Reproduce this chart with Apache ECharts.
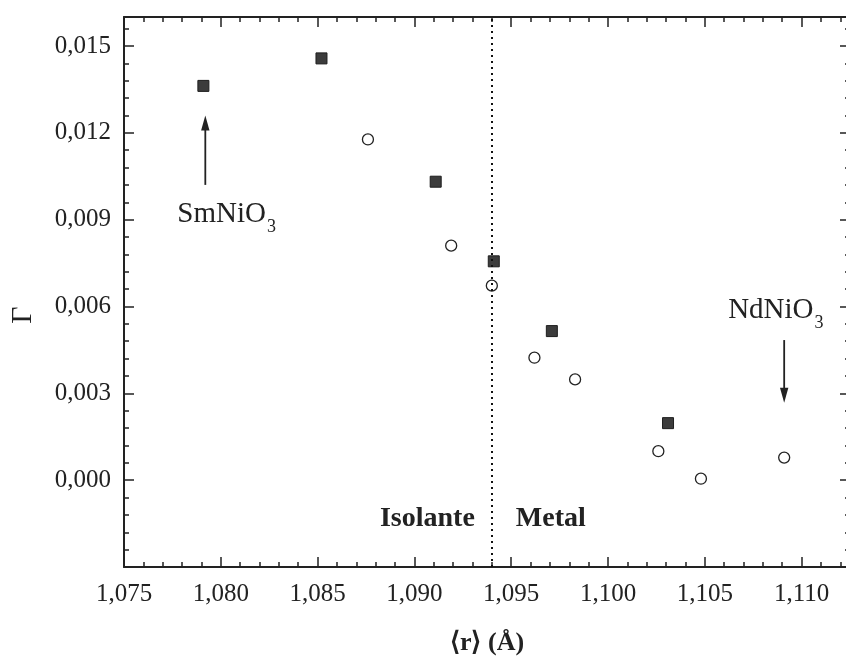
<!DOCTYPE html>
<html><head><meta charset="utf-8">
<script src="https://cdn.jsdelivr.net/npm/echarts@6/dist/echarts.min.js"></script>
<style>html,body{margin:0;padding:0;background:#fff}#c{width:846px;height:661px}</style>
</head><body><div id="c"></div>
<script>
// ---- data ----
const filledR = [1.0791, 1.0852, 1.0911, 1.0941, 1.0971, 1.1031];
const filledG = [0.01362, 0.01457, 0.01031, 0.00756, 0.00515, 0.00197];
const openR = [1.0876, 1.0919, 1.0940, 1.0962, 1.0983, 1.1026, 1.1048, 1.1091];
const openG = [0.01177, 0.00810, 0.00672, 0.00423, 0.00348, 0.00100, 0.00005, 0.00078];
const xTicks = [1.075, 1.080, 1.085, 1.090, 1.095, 1.100, 1.105, 1.110];
const xTickLabels = ['1,075', '1,080', '1,085', '1,090', '1,095', '1,100', '1,105', '1,110'];
const yTicks = [0.000, 0.003, 0.006, 0.009, 0.012, 0.015];
const yTickLabels = ['0,000', '0,003', '0,006', '0,009', '0,012', '0,015'];
const xRange = [1.075, 1.1125];
const yRange = [-0.003, 0.016];
const xMinorStep = 0.001, yMinorStep = 0.0006;
const dividerR = 1.094;               // insulator / metal boundary
const smArrow = {x: 1.0792, from: 0.0102, to: 0.0126};
const ndArrow = {x: 1.1091, from: 0.00484, to: 0.00267};
const phaseLabelY = -0.0013;

const FONT = 'Liberation Serif';
const INK = '#222';
const gridBox = {left: 124, top: 17, width: 726, height: 550, outerBoundsMode: 'none', containLabel: false};

function fmt(vals, labels) {
  return v => { for (let i = 0; i < vals.length; i++) if (Math.abs(vals[i] - v) < 1e-9) return labels[i]; return ''; };
}
function majorX(pos, withLabels) {
  const a = {
    type: 'value', gridIndex: 0, position: pos, min: xRange[0], max: xRange[1], interval: 0.005,
    axisLine: {show: true, onZero: false, lineStyle: {color: INK, width: 2}},
    axisTick: {show: true, inside: true, length: 10, lineStyle: {color: INK, width: 1.5}, customValues: xTicks},
    axisLabel: {show: withLabels, customValues: xTicks, formatter: fmt(xTicks, xTickLabels), margin: 15,
      fontSize: 25, fontFamily: FONT, color: INK},
    splitLine: {show: false}
  };
  if (withLabels) {
    a.name = '⟨r⟩ (Å)'; a.nameLocation = 'middle'; a.nameGap = 63;
    a.nameTextStyle = {fontSize: 26, fontWeight: 'bold', fontFamily: FONT, color: INK};
  }
  return a;
}
function minorX(pos) {
  return {type: 'value', gridIndex: 1, position: pos, min: xRange[0], max: xRange[1], interval: xMinorStep,
    axisLine: {show: false, onZero: false}, axisTick: {show: true, inside: true, length: 5, lineStyle: {color: INK, width: 1.5}},
    axisLabel: {show: false}, splitLine: {show: false}};
}
function majorY(pos, withLabels) {
  const a = {
    type: 'value', gridIndex: 0, position: pos, min: yRange[0], max: yRange[1], interval: 0.003,
    axisLine: {show: true, onZero: false, lineStyle: {color: INK, width: 2}},
    axisTick: {show: true, inside: true, length: 10, lineStyle: {color: INK, width: 1.5}, customValues: yTicks},
    axisLabel: {show: withLabels, customValues: yTicks, formatter: fmt(yTicks, yTickLabels), margin: 13,
      fontSize: 25, fontFamily: FONT, color: INK},
    splitLine: {show: false}
  };
  if (withLabels) {
    a.name = 'Γ'; a.nameLocation = 'middle'; a.nameGap = 86; a.nameRotate = 90;
    a.nameTextStyle = {fontSize: 30, fontFamily: FONT, color: INK, padding: [0, 46, 0, 0]};
  }
  return a;
}
function minorY(pos) {
  return {type: 'value', gridIndex: 1, position: pos, min: yRange[0], max: yRange[1], interval: yMinorStep,
    axisLine: {show: false, onZero: false}, axisTick: {show: true, inside: true, length: 5, lineStyle: {color: INK, width: 1.5}},
    axisLabel: {show: false}, splitLine: {show: false}};
}

const pts = (xs, ys) => xs.map((x, i) => [x, ys[i]]);

const option = {
  animation: false,
  backgroundColor: '#fff',
  grid: [Object.assign({}, gridBox), Object.assign({}, gridBox)],
  xAxis: [majorX('bottom', true), majorX('top', false), minorX('bottom'), minorX('top')],
  yAxis: [majorY('left', true), majorY('right', false), minorY('left'), minorY('right')],
  series: [
    {type: 'scatter', name: 'filled', xAxisIndex: 0, yAxisIndex: 0, data: pts(filledR, filledG),
      symbol: 'rect', symbolSize: 11, itemStyle: {color: '#3c3c3c', borderColor: '#1e1e1e', borderWidth: 1, opacity: 1},
      markLine: {silent: true, symbol: 'none', precision: 5, label: {show: false},
        lineStyle: {type: [2, 4], color: '#111', width: 2}, data: [{xAxis: dividerR}]}},
    {type: 'scatter', name: 'open', xAxisIndex: 0, yAxisIndex: 0, data: pts(openR, openG),
      symbol: 'circle', symbolSize: 11, itemStyle: {color: '#fff', borderColor: '#222', borderWidth: 1.3, opacity: 1}}
  ]
};

const chart = echarts.init(document.getElementById('c'), null, {renderer: 'canvas'});
chart.setOption(option);

const px = (x, y) => chart.convertToPixel({xAxisIndex: 0, yAxisIndex: 0}, [x, y]);
function arrow(a) {
  const p = px(a.x, a.from), q = px(a.x, a.to);
  const dir = Math.sign(q[1] - p[1]), hl = 15, hw = 4.2;
  return [
    {type: 'line', silent: true, shape: {x1: p[0], y1: p[1], x2: q[0], y2: q[1] - dir * (hl - 2)}, style: {stroke: INK, lineWidth: 1.8}},
    {type: 'polygon', silent: true, shape: {points: [[q[0], q[1]], [q[0] - hw, q[1] - dir * hl], [q[0] + hw, q[1] - dir * hl]]}, style: {fill: INK}}
  ];
}
function compound(name, anchor, dx, dy) {
  return {type: 'text', silent: true, x: anchor[0] + dx, y: anchor[1] + dy,
    style: {text: '{a|' + name + '}{b|3}', align: 'left', verticalAlign: 'middle',
      rich: {a: {fontSize: 29, fontFamily: FONT, fill: INK},
             b: {fontSize: 18, fontFamily: FONT, fill: INK, padding: [27, 0, 0, 1]}}}};
}
const smTail = px(smArrow.x, smArrow.from);
const ndTail = px(ndArrow.x, ndArrow.from);
const div = px(dividerR, phaseLabelY);
chart.setOption({graphic: [].concat(
  arrow(smArrow), arrow(ndArrow),
  [compound('SmNiO', smTail, -28, 29), compound('NdNiO', ndTail, -56, -30),
   {type: 'text', silent: true, x: div[0] - 17, y: div[1] + 1,
     style: {text: 'Isolante', align: 'right', verticalAlign: 'middle', fontSize: 28, fontWeight: 'bold', fontFamily: FONT, fill: INK}},
   {type: 'text', silent: true, x: div[0] + 24, y: div[1] + 1,
     style: {text: 'Metal', align: 'left', verticalAlign: 'middle', fontSize: 28, fontWeight: 'bold', fontFamily: FONT, fill: INK}}]
)});
</script></body></html>
